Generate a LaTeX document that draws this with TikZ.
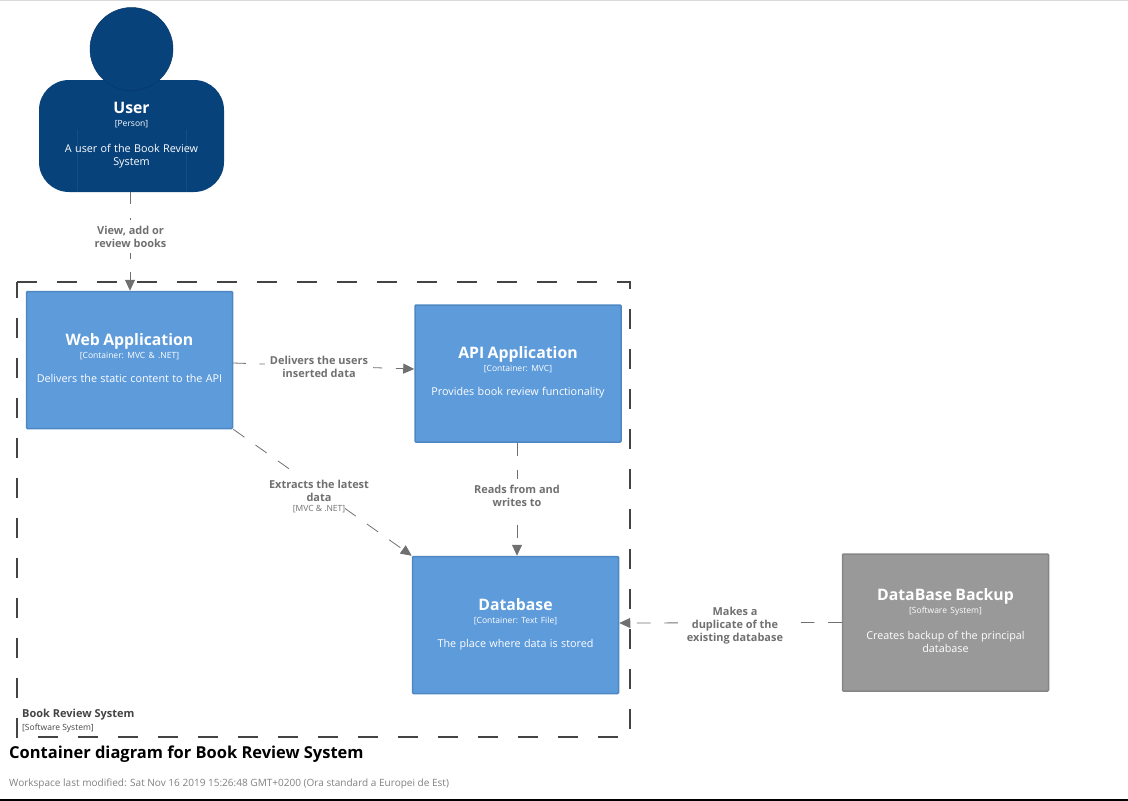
\documentclass[tikz,border=0pt]{standalone}
\usepackage{fontspec}
\setmainfont{Open Sans}
\usetikzlibrary{arrows.meta}
\definecolor{personblue}{HTML}{08427B}
\definecolor{contblue}{HTML}{5D9BDB}
\definecolor{contedge}{HTML}{4F87C2}
\definecolor{sysgrey}{HTML}{999999}
\definecolor{sysedge}{HTML}{868686}
\definecolor{linegrey}{HTML}{707070}
\definecolor{frameink}{HTML}{444444}
\def\titlefont{\fontsize{15.8}{20}\selectfont\bfseries}
\def\tagfont{\fontsize{8.5}{10}\selectfont\frenchspacing}
\def\descfont{\fontsize{10.8}{14}\selectfont}
\def\boxtext#1#2#3{{\titlefont #1}\\[1pt]{\tagfont #2}\\[12pt]{\descfont #3}\\[-7pt]\mbox{}}
\tikzset{
	box/.style={rounded corners=1pt, line width=1.5pt, text=white, align=center, minimum width=206pt, minimum height=137pt, text width=190pt, inner sep=0pt},
	container/.style={box, fill=contblue, draw=contedge},
	softsys/.style={box, fill=sysgrey, draw=sysedge},
	rel/.style={draw=linegrey, line width=0.8pt, -{Triangle[length=11pt,width=10pt]}, dash pattern=on 13.7pt off 13.6pt},
	rellabel/.style={fill=white, text=linegrey, align=center, font=\fontsize{10.95}{13}\selectfont\bfseries, inner xsep=5pt, inner ysep=6pt},
	reltag/.style={fill=white, text=linegrey, font=\tagfont, inner sep=0pt},
}
\begin{document}
\begin{tikzpicture}[x=1pt, y=-1pt]
		%%%%% START %%%%%
		\useasboundingbox (0, 0) rectangle (1128, 801);
		\draw[line width=1pt, color=black!15] (0, 0.5) -- (1128, 0.5);
		\draw[line width=1.5pt, color=black] (0, 800) -- (1128, 800);
		
		% boundary
		\draw[color=frameink, line width=1.6pt, dash pattern=on 20pt off 20pt] (17, 282) -- (630, 282) -- (630, 737) -- (17, 737) -- cycle;
		\node[anchor=north west, align=left, text=frameink, inner sep=0pt] (bookreviewtag) at (22, 709) {{\fontsize{11}{14}\selectfont\bfseries Book Review System}\\[0.5pt]{\tagfont [Software System]}};
		
		% person
		\node[fill=personblue, rounded corners=30pt, minimum width=185pt, minimum height=112pt, inner sep=0pt] (userbody) at (131.5, 136) {};
		\node[circle, fill=personblue, draw=personblue!85!black, line width=0.5pt, minimum size=83pt, inner sep=0pt] (userhead) at (131.5, 49) {};
		\draw[line width=0.5pt, color=white!6!personblue] (77, 130) -- (77, 191);
		\draw[line width=0.5pt, color=white!6!personblue] (186, 130) -- (186, 191);
		\node[text=white, align=center, text width=170pt, inner sep=0pt] (user) at (131.5, 136) {\boxtext{User}{[Person]}{A user of the Book Review\\[1pt]System}};
		
		% containers
		\node[container] (webapp) at (129.5, 360) {\boxtext{Web Application}{[Container: MVC \& .NET]}{Delivers the static content to the API}};
		\node[container] (apiapp) at (518, 373.5) {\boxtext{API Application}{[Container: MVC]}{Provides book review functionality}};
		\node[container] (database) at (515.5, 625) {\boxtext{Database}{[Container: Text File]}{The place where data is stored}};
		\node[softsys] (backup) at (945.5, 622.5) {\boxtext{DataBase Backup}{[Software System]}{Creates backup of the principal\\[1pt]database}};
		
		% connectors
		\draw[rel, dash phase=2pt] ([xshift=-1.5pt]userbody.south) -- ([xshift=0.5pt]webapp.north);
		\draw[rel, dash phase=1pt] ([yshift=-3pt]webapp.east) -- ([yshift=4.5pt]apiapp.west);
		\draw[rel] (webapp.south east) -- (database.north west);
		\draw[rel] ([xshift=-1pt]apiapp.south) -- ([xshift=1.5pt]database.north);
		\draw[rel] (backup.west) -- ([yshift=2pt]database.east);
		
		% connector labels
		\node[rellabel] (viewlabel) at (130.5, 236.5) {View, add or\\review books};
		\node[rellabel] (deliverslabel) at (319, 366.5) {Delivers the users\\inserted data};
		\node[rellabel] (extractslabel) at (319, 491) {Extracts the latest\\data};
		\node[reltag] (extractstag) at (319, 509) {[MVC \& .NET]};
		\node[rellabel] (readslabel) at (517, 495.5) {Reads from and\\writes to};
		\node[rellabel] (duplabel) at (735, 626) {Makes a\\duplicate of the\\existing database};
		
		% caption
		\node[anchor=west, inner sep=0pt] (caption) at (9, 754.5) {\fontsize{16.46}{20}\selectfont\bfseries Container diagram for Book Review System};
		\node[anchor=west, inner sep=0pt, text=black!50] (modified) at (9, 783.5) {\fontsize{10.03}{12}\selectfont Workspace last modified: Sat Nov 16 2019 15:26:48 GMT+0200 (Ora standard a Europei de Est)};
		%%%%% END %%%%%
	\end{tikzpicture}
\end{document}
